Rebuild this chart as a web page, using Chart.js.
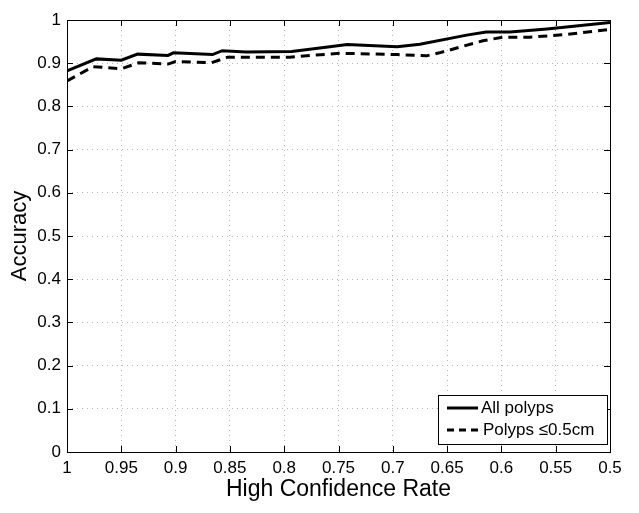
<!DOCTYPE html>
<html>
<head>
<meta charset="utf-8">
<script src="https://cdn.jsdelivr.net/npm/chart.js@4/dist/chart.umd.min.js"></script>
<style>
  body { margin: 0; background: #fff; }
</style>
</head>
<body>
<canvas id="accuracyChart" width="639" height="513"></canvas>
<script>
// Data
const allRate = [1.0, 0.973, 0.95, 0.935, 0.907, 0.902, 0.866, 0.857, 0.835, 0.793, 0.758, 0.742, 0.696, 0.675, 0.632, 0.614, 0.592, 0.558, 0.5];
const allAcc = [0.882, 0.910, 0.907, 0.921, 0.918, 0.924, 0.920, 0.929, 0.926, 0.927, 0.938, 0.943, 0.938, 0.944, 0.965, 0.972, 0.972, 0.979, 0.994];
const smallRate = [1.0, 0.976, 0.95, 0.934, 0.907, 0.90, 0.867, 0.852, 0.795, 0.749, 0.696, 0.669, 0.657, 0.617, 0.599, 0.574, 0.543, 0.5];
const smallAcc = [0.859, 0.892, 0.887, 0.901, 0.898, 0.904, 0.901, 0.914, 0.914, 0.923, 0.920, 0.917, 0.924, 0.952, 0.960, 0.960, 0.966, 0.978];
const seriesNames = ['All polyps', 'Polyps \u22640.5cm'];

const FONT = '"Liberation Sans", Arial, Helvetica, sans-serif';

// matlab prints 1, 0.95, 0.9 ...
const fmtTick = (v) => String(Number(v.toFixed(2)));

// Box, inward ticks and the legend (MATLAB style)
const matlabPlugin = {
    id: 'matlabBox',
    afterDraw(chart) {
        const { ctx, chartArea: a, scales: { x, y } } = chart;
        ctx.save();
        ctx.strokeStyle = '#000';
        ctx.lineWidth = 1;
        ctx.strokeRect(a.left + 0.5, a.top + 0.5, a.right - a.left, a.bottom - a.top);
        ctx.beginPath();
        x.ticks.forEach((t, i) => {
            const px = Math.round(x.getPixelForTick(i)) + 0.5;
            ctx.moveTo(px, a.bottom); ctx.lineTo(px, a.bottom - 6);
            ctx.moveTo(px, a.top); ctx.lineTo(px, a.top + 6);
        });
        y.ticks.forEach((t, i) => {
            const py = Math.round(y.getPixelForTick(i)) + 0.5;
            ctx.moveTo(a.left, py); ctx.lineTo(a.left + 6, py);
            ctx.moveTo(a.right, py); ctx.lineTo(a.right - 6, py);
        });
        ctx.stroke();

        // legend
        const lx = a.right - 172, ly = a.bottom - 57, lw = 169, lh = 49;
        ctx.fillStyle = '#fff';
        ctx.fillRect(lx, ly, lw, lh);
        ctx.strokeRect(lx + 0.5, ly + 0.5, lw, lh);
        ctx.lineWidth = 3;
        ctx.beginPath();
        ctx.moveTo(lx + 9, ly + 13); ctx.lineTo(lx + 40, ly + 13);
        ctx.stroke();
        ctx.setLineDash([7, 5]);
        ctx.beginPath();
        ctx.moveTo(lx + 9, ly + 35); ctx.lineTo(lx + 42, ly + 35);
        ctx.stroke();
        ctx.setLineDash([]);
        ctx.fillStyle = '#000';
        ctx.font = '17px ' + FONT;
        ctx.textBaseline = 'middle';
        ctx.fillText(seriesNames[0], lx + 43, ly + 13);
        ctx.fillText(seriesNames[1], lx + 45, ly + 35);
        ctx.restore();
    }
};

const ctx = document.getElementById('accuracyChart').getContext('2d');

const accuracyChart = new Chart(ctx, {
    type: 'line',
    data: {
        datasets: [{
            label: seriesNames[0],
            data: allRate.map((r, i) => ({ x: r, y: allAcc[i] })),
            borderColor: '#000',
            borderWidth: 3,
            pointRadius: 0,
            tension: 0
        }, {
            label: seriesNames[1],
            data: smallRate.map((r, i) => ({ x: r, y: smallAcc[i] })),
            borderColor: '#000',
            borderWidth: 3,
            borderDash: [9, 6],
            pointRadius: 0,
            tension: 0
        }]
    },
    options: {
        responsive: false,
        animation: false,
        layout: { padding: { top: 20, right: 29, left: 0, bottom: 0 } },
        plugins: {
            legend: { display: false },
            tooltip: { enabled: false }
        },
        scales: {
            x: {
                type: 'linear',
                reverse: true,
                min: 0.5,
                max: 1,
                afterFit: (s) => { s.height = 61; },
                ticks: {
                    stepSize: 0.05,
                    color: '#000',
                    padding: 6,
                    maxRotation: 0,
                    font: { family: FONT, size: 17 },
                    callback: fmtTick
                },
                grid: { color: '#b8b8b8', drawTicks: false, tickLength: 0 },
                border: { display: false, dash: [1, 4] },
                title: {
                    display: true,
                    text: 'High Confidence Rate',
                    color: '#000',
                    padding: { top: 0, bottom: 10 },
                    font: { family: FONT, size: 23 }
                }
            },
            y: {
                min: 0,
                max: 1,
                afterFit: (s) => { s.width = 67; },
                ticks: {
                    stepSize: 0.1,
                    color: '#000',
                    padding: 6,
                    font: { family: FONT, size: 17 },
                    callback: fmtTick
                },
                grid: { color: '#b8b8b8', drawTicks: false, tickLength: 0 },
                border: { display: false, dash: [1, 4] },
                title: {
                    display: true,
                    text: 'Accuracy',
                    color: '#000',
                    padding: { top: 7, bottom: 0 },
                    font: { family: FONT, size: 22 }
                }
            }
        }
    },
    plugins: [matlabPlugin]
});
</script>
</body>
</html>
